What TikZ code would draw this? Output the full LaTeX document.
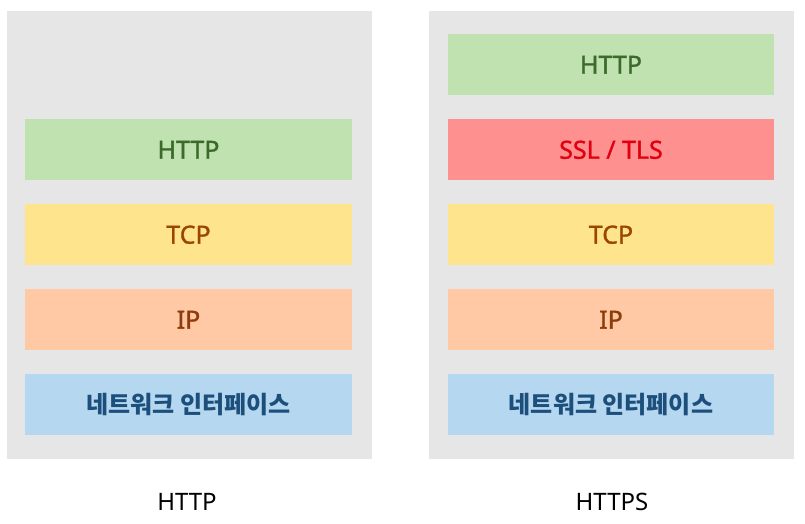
\documentclass[tikz,border=0pt]{standalone}
\usepackage{fontspec}
\setmainfont{Noto Sans}
\newfontfamily\krfont{Noto Sans CJK KR}
\newfontfamily\layerfont[FakeBold=1.2]{Noto Sans}
\definecolor{panelgray}{HTML}{E6E6E6}
\definecolor{httpfill}{HTML}{C0E1B0}
\definecolor{httptext}{HTML}{3B6A2A}
\definecolor{sslfill}{HTML}{FF9090}
\definecolor{ssltext}{HTML}{E00010}
\definecolor{tcpfill}{HTML}{FFE48E}
\definecolor{tcptext}{HTML}{9A4600}
\definecolor{ipfill}{HTML}{FFC9A6}
\definecolor{iptext}{HTML}{8E3C08}
\definecolor{netfill}{HTML}{B5D7F0}
\definecolor{nettext}{HTML}{1D4F7C}

\begin{document}
\begin{tikzpicture}[x=1pt, y=-1pt,
            every node/.style={inner sep=0pt, font=\fontsize{24}{28}\selectfont},
            layer/.style={rectangle, minimum width=326.5pt, minimum height=61pt, font=\layerfont\fontsize{25}{29}\selectfont},
            panel/.style={rectangle, fill=panelgray, minimum width=365pt, minimum height=448.3pt}]
            \tikzset{http layer/.style={layer, fill=httpfill, text=httptext}}
            \tikzset{ssl layer/.style={layer, fill=sslfill, text=ssltext}}
            \tikzset{tcp layer/.style={layer, fill=tcpfill, text=tcptext}}
            \tikzset{ip layer/.style={layer, fill=ipfill, text=iptext}}
            \tikzset{net layer/.style={layer, fill=netfill, text=nettext, font=\krfont\bfseries\fontsize{24}{28}\selectfont}}
            \useasboundingbox (0, 0) rectangle (805, 523);
            % left stack
            \node [panel] (p1) at (189.2, 234.85) {};
            \node [http layer] (h1) at (188.5, 149.8) {HTTP};
            \node [tcp layer] (t1) at (188.5, 234.7) {TCP};
            \node [ip layer] (i1) at (188.5, 319.7) {IP};
            \node [net layer] (n1) at (188.5, 404.8) {네트워크 인터페이스};
            \node (c1) at (187, 502) {HTTP};
            % right stack
            \node [panel] (p2) at (611.7, 234.85) {};
            \node [http layer] (h2) at (611, 64.8) {HTTP};
            \node [ssl layer] (s2) at (611, 149.8) {SSL / TLS};
            \node [tcp layer] (t2) at (611, 234.7) {TCP};
            \node [ip layer] (i2) at (611, 319.7) {IP};
            \node [net layer] (n2) at (611, 404.8) {네트워크 인터페이스};
            \node (c2) at (612, 502) {HTTPS};
        \end{tikzpicture}
\end{document}
